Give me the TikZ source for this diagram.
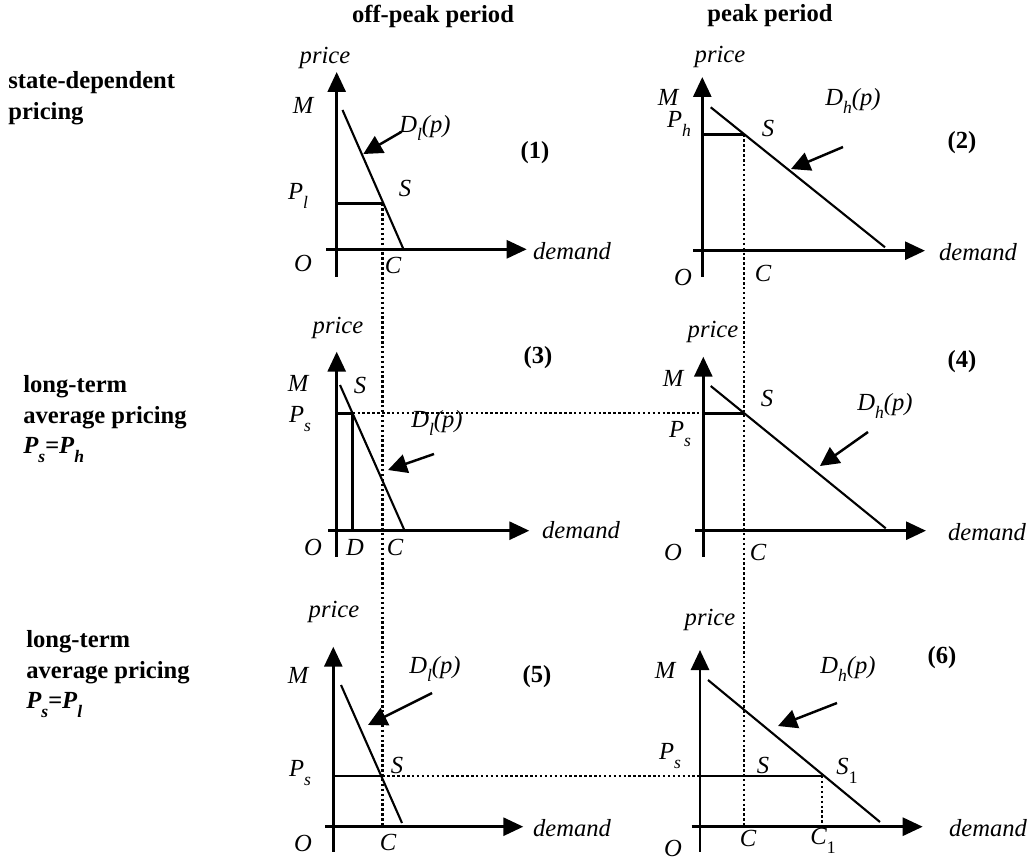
\documentclass[tikz,border=0pt]{standalone}
\usepackage{fontspec}
\setmainfont{Liberation Serif}
\usetikzlibrary{arrows.meta}
\newcommand{\lowidx}[1]{\raisebox{-0.75ex}{\fontsize{10}{10}\selectfont #1}}

\begin{document}
\begin{tikzpicture}[x=0.02cm,y=-0.02cm,
  pdaxis/.style={line width=1.6pt,-{Triangle[length=0.4cm,width=0.36cm]}},
  pdcurve/.style={line width=1.2pt},
  pdlevel/.style={line width=1.4pt},
  pdguide/.style={line width=1.3pt,dash pattern=on 1.4pt off 1.4pt},
  pdpointer/.style={line width=1.4pt,-{Triangle[length=0.38cm,width=0.38cm]}},
  pdlabel/.style={font=\fontsize{14}{16}\selectfont\itshape,inner sep=0pt},
  pdnum/.style={font=\fontsize{14}{16}\selectfont\bfseries,inner sep=0pt},
  pdtitle/.style={font=\fontsize{14}{17.5}\selectfont\bfseries,inner sep=0pt,align=left}
]
  \useasboundingbox (0,0) rectangle (1034,861);
  % Column and row titles
  \node[pdtitle] (offpeak) at (433,16) {off-peak period};
  \node[pdtitle] (peak) at (770,16) {peak period};
  \node[pdtitle,anchor=north west] (row1) at (8,71) {state-dependent\\pricing};
  \node[pdtitle,anchor=north west] (row2) at (23,375) {long-term\\average pricing\\\textit{P\lowidx{s}=P\lowidx{h}}};
  \node[pdtitle,anchor=north west] (row3) at (26,630) {long-term\\average pricing\\\textit{P\lowidx{s}=P\lowidx{l}}};

  % Panel (1)
  \coordinate (yb1) at (336.7,277);   \coordinate (yt1) at (336.7,72);
  \coordinate (xl1) at (326,249.3);   \coordinate (xr1) at (526.7,249.3);
  \coordinate (m1) at (342.5,110);    \coordinate (c1) at (403.5,249.3);
  \coordinate (pl1) at (336.7,203.3); \coordinate (s1) at (382.5,203.3);
  \coordinate (pt1) at (401.7,131.7); \coordinate (ph1) at (363.3,154);
  \draw[pdaxis] (yb1) -- (yt1);
  \draw[pdaxis] (xl1) -- (xr1);
  \draw[pdcurve] (m1) -- (c1);
  \draw[pdlevel] (pl1) -- (s1);
  \draw[pdpointer] (pt1) -- (ph1);
  \node[pdlabel] (price1) at (325,58) {price};
  \node[pdlabel] (mlbl1) at (303,105) {M};
  \node[pdlabel] (dlbl1) at (425,128) {D\lowidx{l}(p)};
  \node[pdnum] (num1) at (535,153) {(1)};
  \node[pdlabel] (plbl1) at (298,196) {P\lowidx{l}};
  \node[pdlabel] (slbl1) at (405,188) {S};
  \node[pdlabel] (olbl1) at (303,263) {O};
  \node[pdlabel] (clbl1) at (393,265) {C};
  \node[pdlabel] (dem1) at (572,251) {demand};

  % Panel (2)
  \coordinate (yb2) at (702.3,277);   \coordinate (yt2) at (702.3,77);
  \coordinate (xl2) at (693,250.7);   \coordinate (xr2) at (925,250.7);
  \coordinate (m2) at (710.7,107.3);  \coordinate (c2) at (885,247.3);
  \coordinate (pl2) at (702.3,134.5); \coordinate (s2) at (744.3,134.5);
  \coordinate (pt2) at (843,147);     \coordinate (ph2) at (791,169);
  \draw[pdaxis] (yb2) -- (yt2);
  \draw[pdaxis] (xl2) -- (xr2);
  \draw[pdcurve] (m2) -- (c2);
  \draw[pdlevel] (pl2) -- (s2);
  \draw[pdpointer] (pt2) -- (ph2);
  \node[pdlabel] (price2) at (720,57) {price};
  \node[pdlabel] (mlbl2) at (668,97) {M};
  \node[pdlabel] (plbl2) at (679,124) {P\lowidx{h}};
  \node[pdlabel] (slbl2) at (768,128) {S};
  \node[pdlabel] (dlbl2) at (853,101) {D\lowidx{h}(p)};
  \node[pdnum] (num2) at (962,143) {(2)};
  \node[pdlabel] (olbl2) at (683,277) {O};
  \node[pdlabel] (clbl2) at (763,273) {C};
  \node[pdlabel] (dem2) at (978,252) {demand};

  % Panel (3)
  \coordinate (yb3) at (336.7,556.7); \coordinate (yt3) at (336.7,351.7);
  \coordinate (xl3) at (328,530.7);   \coordinate (xr3) at (529.3,530.7);
  \coordinate (m3) at (340,385);      \coordinate (c3) at (404,529.3);
  \coordinate (pl3) at (336.7,413.3); \coordinate (s3) at (352.6,413.3);
  \coordinate (d3) at (352.6,530.7);
  \coordinate (pt3) at (434,454);     \coordinate (ph3) at (388,470);
  \draw[pdaxis] (yb3) -- (yt3);
  \draw[pdaxis] (xl3) -- (xr3);
  \draw[pdcurve] (m3) -- (c3);
  \draw[pdlevel] (pl3) -- (s3) -- (d3);
  \draw[pdpointer] (pt3) -- (ph3);
  \node[pdlabel] (price3) at (338,328) {price};
  \node[pdlabel] (mlbl3) at (298,383) {M};
  \node[pdlabel] (slbl3) at (360,385) {S};
  \node[pdlabel] (plbl3) at (300,419) {P\lowidx{s}};
  \node[pdlabel] (dlbl3) at (437,423) {D\lowidx{l}(p)};
  \node[pdnum] (num3) at (538,358) {(3)};
  \node[pdlabel] (olbl3) at (313,547) {O};
  \node[pdlabel] (dd3) at (355,547) {D};
  \node[pdlabel] (clbl3) at (395,547) {C};
  \node[pdlabel] (dem3) at (581,530) {demand};

  % Panel (4)
  \coordinate (yb4) at (703.3,556.7); \coordinate (yt4) at (703.3,356.7);
  \coordinate (xl4) at (695,530.7);   \coordinate (xr4) at (926,530.7);
  \coordinate (m4) at (710.7,386);    \coordinate (c4) at (885.7,528.3);
  \coordinate (pl4) at (703.3,413.3); \coordinate (s4) at (744.3,413.3);
  \coordinate (pt4) at (868,432);     \coordinate (ph4) at (820,466);
  \draw[pdaxis] (yb4) -- (yt4);
  \draw[pdaxis] (xl4) -- (xr4);
  \draw[pdcurve] (m4) -- (c4);
  \draw[pdlevel] (pl4) -- (s4);
  \draw[pdpointer] (pt4) -- (ph4);
  \node[pdlabel] (price4) at (713,332) {price};
  \node[pdlabel] (mlbl4) at (673,378) {M};
  \node[pdlabel] (slbl4) at (767,398) {S};
  \node[pdlabel] (plbl4) at (680,434) {P\lowidx{s}};
  \node[pdlabel] (dlbl4) at (885,406) {D\lowidx{h}(p)};
  \node[pdnum] (num4) at (962,362) {(4)};
  \node[pdlabel] (olbl4) at (673,552) {O};
  \node[pdlabel] (clbl4) at (758,552) {C};
  \node[pdlabel] (dem4) at (987,532) {demand};

  % Panel (5)
  \coordinate (yb5) at (333.3,851.7); \coordinate (yt5) at (333.3,646.7);
  \coordinate (xl5) at (325,826.7);   \coordinate (xr5) at (523.3,826.7);
  \coordinate (m5) at (341,685);      \coordinate (c5) at (402,823);
  \coordinate (pl5) at (333.3,776);   \coordinate (s5) at (382.5,776);
  \coordinate (cc5) at (382.5,826.7);
  \coordinate (pt5) at (432,693);     \coordinate (ph5) at (368,725);
  \draw[pdaxis] (yb5) -- (yt5);
  \draw[pdaxis] (xl5) -- (xr5);
  \draw[pdcurve] (m5) -- (c5);
  \draw[pdlevel] (pl5) -- (s5);
  \draw[pdpointer] (pt5) -- (ph5);
  \node[pdlabel] (price5) at (334,612) {price};
  \node[pdlabel] (mlbl5) at (298,675) {M};
  \node[pdlabel] (dlbl5) at (435,669) {D\lowidx{l}(p)};
  \node[pdnum] (num5) at (537,677) {(5)};
  \node[pdlabel] (plbl5) at (300,773) {P\lowidx{s}};
  \node[pdlabel] (slbl5) at (397,765) {S};
  \node[pdlabel] (olbl5) at (303,843) {O};
  \node[pdlabel] (clbl5) at (388,842) {C};
  \node[pdlabel] (dem5) at (572,828) {demand};

  % Panel (6)
  \coordinate (yb6) at (700,851.7);   \coordinate (yt6) at (700,650);
  \coordinate (xl6) at (691.7,826.7); \coordinate (xr6) at (922.7,826.7);
  \coordinate (m6) at (708,680);      \coordinate (c6) at (880,822);
  \coordinate (pl6) at (700,776);     \coordinate (s6) at (822,776);
  \coordinate (cc6) at (744.3,826.7); \coordinate (c16) at (822,826.7);
  \coordinate (pt6) at (837,703);     \coordinate (ph6) at (778,726);
  \draw[pdaxis] (yb6) -- (yt6);
  \draw[pdaxis] (xl6) -- (xr6);
  \draw[pdcurve] (m6) -- (c6);
  \draw[pdlevel] (pl6) -- (s6);
  \draw[pdpointer] (pt6) -- (ph6);
  \node[pdlabel] (price6) at (710,620) {price};
  \node[pdlabel] (mlbl6) at (665,670) {M};
  \node[pdlabel] (dlbl6) at (848,669) {D\lowidx{h}(p)};
  \node[pdnum] (num6) at (942,658) {(6)};
  \node[pdlabel] (plbl6) at (670,756) {P\lowidx{s}};
  \node[pdlabel] (slbl6) at (763,765) {S};
  \node[pdlabel] (s1lbl6) at (847,771) {S\lowidx{\upshape 1}};
  \node[pdlabel] (clbl6) at (748,838) {C};
  \node[pdlabel] (c1lbl6) at (823,841) {C\lowidx{\upshape 1}};
  \node[pdlabel] (olbl6) at (673,848) {O};
  \node[pdlabel] (dem6) at (988,828) {demand};

  % Dotted guides between panels
  \draw[pdguide] (s1) -- (cc5);
  \draw[pdguide] (s2) -- (cc6);
  \draw[pdguide] (s3) -- (pl4);
  \draw[pdguide] (s5) -- (pl6);
  \draw[pdguide] (s6) -- (c16);
\end{tikzpicture}
\end{document}
